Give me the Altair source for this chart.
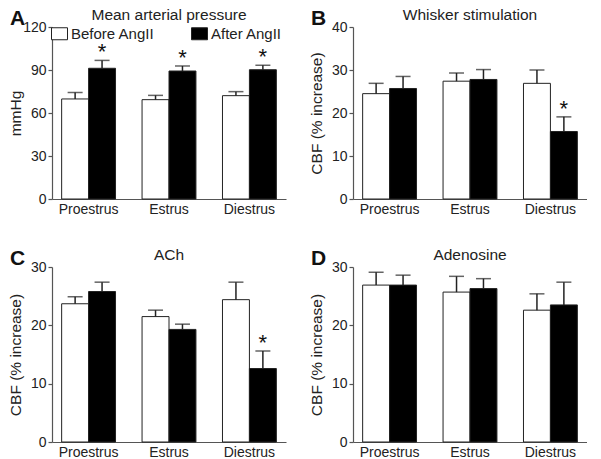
import altair as alt
import pandas as pd

stages = ["Proestrus", "Estrus", "Diestrus"]
conditions = ["Before AngII", "After AngII"]

panel_letters = ["A", "B", "C", "D"]
panel_titles = ["Mean arterial pressure", "Whisker stimulation", "ACh", "Adenosine"]
panel_ytitles = ["mmHg", "CBF (% increase)", "CBF (% increase)", "CBF (% increase)"]
panel_ymax = [120, 40, 30, 30]
panel_yticks = [[0, 30, 60, 90, 120], [0, 10, 20, 30, 40], [0, 10, 20, 30], [0, 10, 20, 30]]

# A: mean arterial pressure
a_before = [69.8, 69.3, 72.1]
a_before_err = [4.5, 3.0, 2.8]
a_after = [91.2, 89.3, 90.2]
a_after_err = [5.5, 3.5, 3.1]
a_star = [True, True, True]

# B: whisker stimulation
b_before = [24.5, 27.4, 26.9]
b_before_err = [2.4, 1.9, 3.1]
b_after = [25.7, 27.8, 15.7]
b_after_err = [2.8, 2.3, 3.4]
b_star = [False, False, True]

# C: ACh
c_before = [23.7, 21.5, 24.4]
c_before_err = [1.2, 1.1, 3.0]
c_after = [25.8, 19.3, 12.6]
c_after_err = [1.6, 0.9, 3.0]
c_star = [False, False, True]

# D: Adenosine
d_before = [26.9, 25.7, 22.6]
d_before_err = [2.2, 2.7, 2.8]
d_after = [26.9, 26.3, 23.5]
d_after_err = [1.7, 1.7, 3.9]
d_star = [False, False, False]

FONT = "Liberation Sans"
AXIS_COLOR = "#555555"
TEXT_COLOR = "#222222"

PLOT_W = 234


def make_df(before, before_err, after, after_err, star):
    rows = []
    for i, s in enumerate(stages):
        rows.append({"stage": s, "cond": conditions[0], "value": before[i],
                     "top": before[i] + before_err[i], "star": False})
        rows.append({"stage": s, "cond": conditions[1], "value": after[i],
                     "top": after[i] + after_err[i], "star": star[i]})
    return pd.DataFrame(rows)


def panel(idx, df, height, legend):
    x = alt.X("stage:N", sort=stages,
              scale=alt.Scale(paddingInner=0.33, paddingOuter=0.12),
              axis=alt.Axis(title=None, ticks=False, labelAngle=0, labelFontSize=14,
                            labelFont=FONT, labelColor=TEXT_COLOR, labelPadding=3,
                            domainColor=AXIS_COLOR, domainWidth=1.2, grid=False))
    xo = alt.XOffset("cond:N", sort=conditions)
    yscale = alt.Scale(domain=[0, panel_ymax[idx]], nice=False)
    y = alt.Y("value:Q", scale=yscale,
              axis=alt.Axis(values=panel_yticks[idx], title=panel_ytitles[idx],
                            titleFontSize=15.5, titleFont=FONT, titleFontWeight="normal",
                            titleColor=TEXT_COLOR, titleX=-32, titleY=height / 2,
                            titleAngle=270, titleAlign="center", titleBaseline="alphabetic",
                            labelFontSize=14, labelFont=FONT, labelColor=TEXT_COLOR,
                            tickSize=4, tickColor=AXIS_COLOR, tickWidth=1.2,
                            domainColor=AXIS_COLOR, domainWidth=1.2, grid=False,
                            labelPadding=2))
    if legend:
        leg = alt.Legend(orient="none", legendX=-1, legendY=-2, direction="horizontal",
                         title=None, symbolType="M-1,-0.75H1V0.75H-1Z", symbolSize=256,
                         symbolStrokeColor="#222222", symbolStrokeWidth=1,
                         labelFontSize=15, labelFont=FONT, labelColor=TEXT_COLOR,
                         labelOffset=3, columnPadding=34, padding=0)
    else:
        leg = None
    fill = alt.Fill("cond:N", sort=conditions,
                    scale=alt.Scale(domain=conditions, range=["white", "black"]),
                    legend=leg)
    base = alt.Chart(df)
    bars = base.mark_bar(stroke="#222222", strokeWidth=1).encode(x=x, xOffset=xo, y=y, fill=fill)
    rules = base.mark_rule(color="#222222", strokeWidth=1.5).encode(
        x=x, xOffset=xo, y=alt.Y("value:Q", scale=yscale), y2="top:Q")
    caps = base.mark_tick(color="#222222", thickness=1.5, size=15, orient="horizontal").encode(
        x=x, xOffset=xo, y=alt.Y("top:Q", scale=yscale))
    stars = base.transform_filter("datum.star").mark_text(
        text="*", fontSize=22, font=FONT, color="#111111", baseline="alphabetic", dy=-1).encode(
        x=x, xOffset=xo, y=alt.Y("top:Q", scale=yscale))
    letter = alt.Chart(pd.DataFrame({"t": [panel_letters[idx]]})).mark_text(
        font=FONT, fontSize=21, fontWeight="bold", align="left", baseline="alphabetic",
        color="#111111").encode(text="t:N", x=alt.value(-42), y=alt.value(-2))
    title = alt.Chart(pd.DataFrame({"t": [panel_titles[idx]]})).mark_text(
        font=FONT, fontSize=15.5, align="center", baseline="alphabetic",
        color=TEXT_COLOR).encode(text="t:N", x=alt.value(PLOT_W / 2), y=alt.value(-7))
    return alt.layer(bars, rules, caps, stars, letter, title).properties(
        width=PLOT_W, height=height)


pA = panel(0, make_df(a_before, a_before_err, a_after, a_after_err, a_star), 172, True)
pB = panel(1, make_df(b_before, b_before_err, b_after, b_after_err, b_star), 172, False)
pC = panel(2, make_df(c_before, c_before_err, c_after, c_after_err, c_star), 175, False)
pD = panel(3, make_df(d_before, d_before_err, d_after, d_after_err, d_star), 175, False)

chart = alt.concat(pA, pB, pC, pD, columns=2,
                   spacing=alt.RowColnumber(row=32, column=23)).properties(
    padding=0
).configure_view(stroke=None)

chart.save("out.html", embed_options={"renderer": "svg", "actions": False})
